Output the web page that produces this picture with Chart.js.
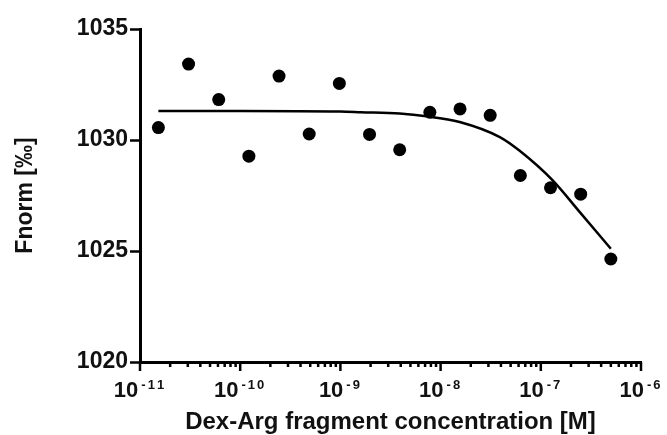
<!DOCTYPE html>
<html>
<head>
<meta charset="utf-8">
<script src="https://cdn.jsdelivr.net/npm/chart.js@4/dist/chart.umd.min.js"></script>
<style>
  html, body { margin: 0; padding: 0; background: #fff; }
  #wrap { width: 667px; height: 435px; }
</style>
</head>
<body>
<div id="wrap"><canvas id="mstChart"></canvas></div>
<script>
// measured points (2-fold dilution series)
const concentrations = [1.526e-11, 3.052e-11, 6.104e-11, 1.221e-10, 2.441e-10, 4.883e-10, 9.766e-10, 1.953e-9,
    3.906e-9, 7.813e-9, 1.563e-8, 3.125e-8, 6.25e-8, 1.25e-7, 2.5e-7, 5e-7];
const fnorm = [1030.56, 1033.42, 1031.82, 1029.27, 1032.88, 1030.27, 1032.55, 1030.25,
    1029.56, 1031.25, 1031.40, 1031.11, 1028.40, 1027.85, 1027.56, 1024.64];

// fitted curve
const fitX = [1.526e-11, 1e-10, 1e-9, 1.6e-9, 3.9e-9, 7.2e-9, 1.55e-8, 3.9e-8, 6.2e-8, 1.3e-7, 2.45e-7, 5e-7];
const fitY = [1031.31, 1031.31, 1031.28, 1031.25, 1031.19, 1031.07, 1030.81, 1030.13, 1029.5, 1028.2, 1026.75, 1025.1];

const yTicks = [1020, 1025, 1030, 1035];
const xDecades = [1e-11, 1e-10, 1e-9, 1e-8, 1e-7, 1e-6];
const xExponents = ['-11', '-10', '-9', '-8', '-7', '-6'];

const fontFamily = "'Liberation Sans', Arial, sans-serif";

// log axis: tick marks (long at decades, short in between) and 10^n labels
const logAxisMarks = {
    id: 'logAxisMarks',
    afterDraw(chart) {
        const ctx = chart.ctx;
        const xs = chart.scales.x;
        const axisY = xs.top;
        ctx.save();
        ctx.strokeStyle = '#000';
        ctx.lineWidth = 2.5;
        xs.ticks.forEach(t => {
            const px = xs.getPixelForValue(t.value);
            ctx.beginPath();
            ctx.moveTo(px, axisY);
            ctx.lineTo(px, axisY + (t.major ? 9 : 5));
            ctx.stroke();
        });

        ctx.fillStyle = '#111';
        ctx.textBaseline = 'alphabetic';
        ctx.textAlign = 'left';
        xDecades.forEach((v, i) => {
            const px = xs.getPixelForValue(v);
            ctx.font = 'bold 22px ' + fontFamily;
            const baseW = ctx.measureText('10').width;
            ctx.font = 'bold 13px ' + fontFamily;
            const chars = xExponents[i].split('');
            const gap = 2;
            let expW = 0;
            chars.forEach(c => { expW += ctx.measureText(c).width + gap; });
            const total = baseW + 3 + expW;
            let cx = px - total / 2;
            ctx.font = 'bold 22px ' + fontFamily;
            ctx.fillText('10', cx, axisY + 35);
            cx += baseW + 3;
            ctx.font = 'bold 13px ' + fontFamily;
            chars.forEach(c => {
                ctx.fillText(c, cx, axisY + 27);
                cx += ctx.measureText(c).width + gap;
            });
        });
        ctx.restore();
    }
};

const ctx = document.getElementById('mstChart').getContext('2d');
const mstChart = new Chart(ctx, {
    type: 'scatter',
    data: {
        datasets: [{
            label: 'fit',
            data: fitX.map((x, i) => ({ x: x, y: fitY[i] })),
            showLine: true,
            borderColor: '#000',
            borderWidth: 2.5,
            pointRadius: 0,
            cubicInterpolationMode: 'monotone',
            fill: false
        }, {
            label: 'Fnorm',
            data: concentrations.map((x, i) => ({ x: x, y: fnorm[i] })),
            backgroundColor: '#000',
            borderColor: '#000',
            borderWidth: 0,
            pointRadius: 6.5,
            pointHoverRadius: 6.5
        }]
    },
    options: {
        responsive: true,
        maintainAspectRatio: false,
        animation: false,
        layout: { padding: { top: 29, right: 26, bottom: 0, left: 0 } },
        plugins: {
            legend: { display: false },
            tooltip: { enabled: false }
        },
        scales: {
            x: {
                type: 'logarithmic',
                min: 1e-11,
                max: 1e-6,
                afterBuildTicks: (scale) => {
                    const ticks = [];
                    xDecades.forEach((d, i) => {
                        const steps = i < xDecades.length - 1 ? 9 : 1;
                        for (let k = 1; k <= steps; k++) {
                            ticks.push({ value: d * k, major: k === 1 });
                        }
                    });
                    scale.ticks = ticks;
                },
                afterFit: (scale) => { scale.height = 73; },
                ticks: { display: false },
                grid: { display: false },
                border: { display: true, color: '#000', width: 3 },
                title: {
                    display: true,
                    text: 'Dex-Arg fragment concentration [M]',
                    color: '#111',
                    font: { family: fontFamily, size: 24, weight: 'bold' },
                    padding: { top: 0, bottom: -2 }
                }
            },
            y: {
                min: 1020,
                max: 1035,
                afterBuildTicks: (scale) => {
                    scale.ticks = yTicks.map(v => ({ value: v }));
                },
                afterFit: (scale) => { scale.width = 140; },
                ticks: {
                    color: '#111',
                    padding: 2,
                    font: { family: fontFamily, size: 23, weight: 'bold' },
                    callback: (v) => String(v)
                },
                grid: {
                    drawOnChartArea: false,
                    drawTicks: true,
                    tickLength: 10,
                    tickWidth: 2.5,
                    tickColor: '#000'
                },
                border: { display: true, color: '#000', width: 3 },
                title: {
                    display: true,
                    text: 'Fnorm [‰]',
                    color: '#111',
                    font: { family: fontFamily, size: 23, weight: 'bold' },
                    padding: { top: 12, bottom: 0 }
                }
            }
        }
    },
    plugins: [logAxisMarks]
});
</script>
</body>
</html>
